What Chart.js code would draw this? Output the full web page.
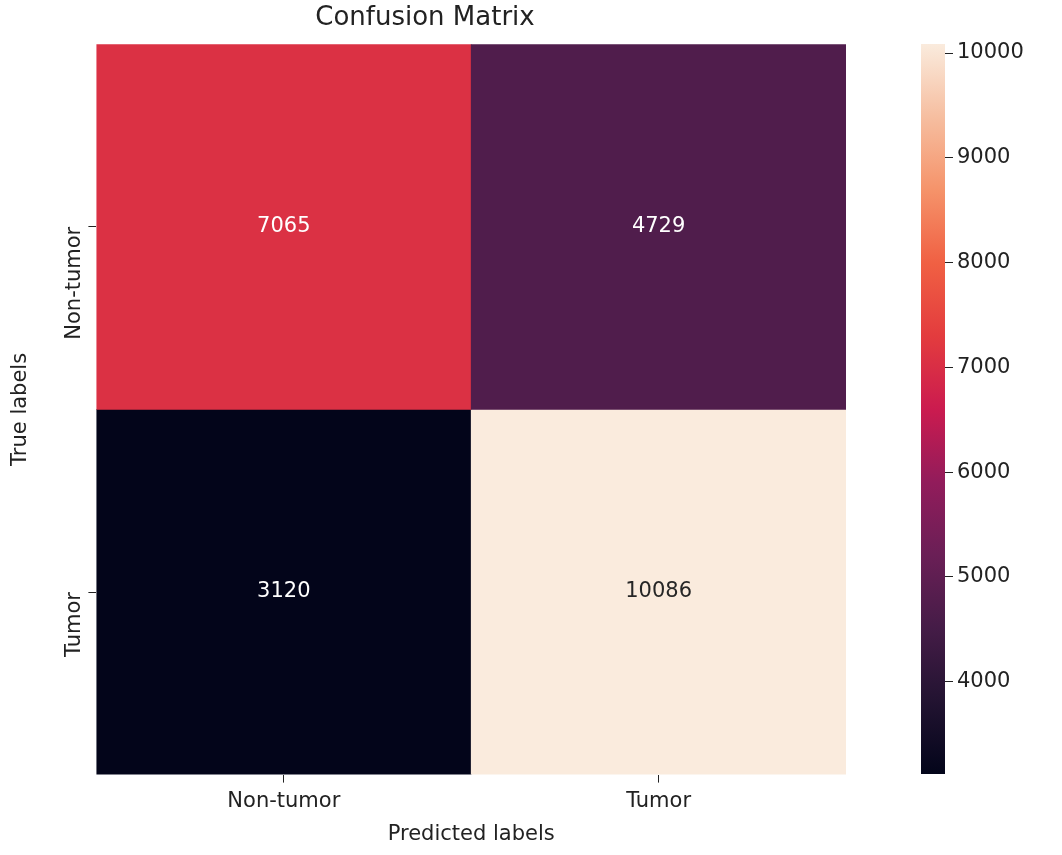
<!DOCTYPE html>
<html><head><meta charset="utf-8">
<script src="https://cdn.jsdelivr.net/npm/chart.js@4"></script>
<style>
body{margin:0;background:#fff;width:1062px;height:855px;position:relative;overflow:hidden}
#main{position:absolute;left:0;top:0}
#cbar{position:absolute;left:900px;top:0}
</style></head><body>
<canvas id="main" width="1062" height="855"></canvas>
<canvas id="cbar" width="162" height="855"></canvas>
<script>
const predictedLabels = ['Non-tumor', 'Tumor'];
const trueLabels = ['Non-tumor', 'Tumor'];
const rowNonTumor = [7065, 4729];
const rowTumor = [3120, 10086];
const colorbarTicks = [4000, 5000, 6000, 7000, 8000, 9000, 10000];

const vmin = 3120, vmax = 10086;
const stops = ['#03051a','#221331','#451c47','#6a1f56','#921c5b','#cb1b4f','#e33c3e','#f06043','#f5936a','#f6bea0','#faebdd'];
function hex(h){return [1,3,5].map(i=>parseInt(h.substr(i,2),16));}
function cmap(v){
  let t=(v-vmin)/(vmax-vmin); t=Math.max(0,Math.min(1,t));
  const p=t*(stops.length-1), i=Math.min(Math.floor(p),stops.length-2), f=p-i;
  const a=hex(stops[i]), b=hex(stops[i+1]);
  return 'rgb('+a.map((x,k)=>Math.round(x+(b[k]-x)*f)).join(',')+')';
}
Chart.defaults.font.family = "'DejaVu Sans', sans-serif";
Chart.defaults.color = '#222';

const labelPlugin = {
  id:'cellLabels',
  afterDatasetsDraw(chart){
    const ctx=chart.ctx;
    ctx.save();
    ctx.font="21px 'DejaVu Sans'";
    ctx.textAlign='center'; ctx.textBaseline='middle';
    chart.data.datasets.forEach((ds,di)=>{
      chart.getDatasetMeta(di).data.forEach((bar,j)=>{
        const v=ds.values[j];
        const c=chart.scales.x.getPixelForValue(j);
        const y=chart.scales.y.getPixelForValue(di+0.5);
        ctx.fillStyle = ((v-vmin)/(vmax-vmin) > 0.75) ? '#262626' : '#ffffff';
        ctx.fillText(String(v), c, y);
      });
    });
    ctx.restore();
  }
};

const rows=[rowNonTumor,rowTumor];
new Chart(document.getElementById('main'),{
  type:'bar',
  data:{labels:predictedLabels,
    datasets:rows.map((r,i)=>({data:r.map(()=>[i,i+1]),values:r,backgroundColor:r.map(cmap),
      barPercentage:1,categoryPercentage:1,borderWidth:0}))},
  options:{responsive:false,animation:false,
    layout:{padding:{left:4,right:216,top:0,bottom:4}},
    plugins:{legend:{display:false},tooltip:{enabled:false},
      title:{display:true,text:'Confusion Matrix',font:{size:26,weight:'normal'},color:'#222',padding:{top:3,bottom:10}}},
    scales:{
      x:{stacked:true,grid:{display:true,drawOnChartArea:false,offset:false,tickLength:8,color:'#222'},border:{display:false},
        ticks:{font:{size:21},color:'#222',padding:6},
        title:{display:true,text:'Predicted labels',font:{size:21},color:'#222',padding:{top:2}}},
      y:{type:'linear',min:0,max:2,reverse:true,
        afterBuildTicks:(s)=>{s.ticks=[{value:0.5},{value:1.5}];},
        grid:{display:true,drawOnChartArea:false,tickLength:8,color:'#222'},border:{display:false},
        ticks:{font:{size:21},color:'#222',minRotation:90,maxRotation:90,padding:14,callback:(v)=>trueLabels[Math.floor(v)]},
        title:{display:true,text:'True labels',font:{size:21},color:'#222',padding:{bottom:2}}}
    }},
  plugins:[labelPlugin]
});

new Chart(document.getElementById('cbar'),{
  type:'bar',
  data:{labels:[''],datasets:[{data:[[vmin,vmax]],barPercentage:1,categoryPercentage:1,borderWidth:0,
    backgroundColor:(c)=>{const a=c.chart.chartArea; if(!a) return '#000';
      const g=c.chart.ctx.createLinearGradient(0,a.bottom,0,a.top);
      stops.forEach((s,i)=>g.addColorStop(i/(stops.length-1),s)); return g;}}]},
  options:{responsive:false,animation:false,
    layout:{padding:{left:21,right:0,top:44,bottom:81}},
    plugins:{legend:{display:false},tooltip:{enabled:false}},
    scales:{
      x:{display:false},
      y:{position:'right',min:vmin,max:vmax,
        afterBuildTicks:(s)=>{s.ticks=colorbarTicks.map(v=>({value:v}));},
        afterFit:(s)=>{s.width=117;},
        grid:{display:true,drawOnChartArea:false,tickLength:8,color:'#222'},border:{display:false},
        ticks:{font:{size:21},color:'#222',padding:4,callback:(v)=>String(v)}}
    }}
});
</script></body></html>
